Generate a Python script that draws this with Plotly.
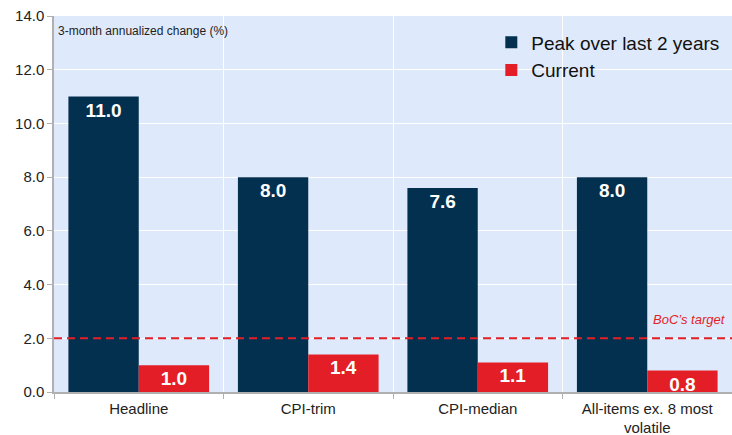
import plotly.graph_objects as go

categories = ["Headline", "CPI-trim", "CPI-median", "All-items ex. 8 most<br>volatile"]
peak = [11.0, 8.0, 7.6, 8.0]
current = [1.0, 1.4, 1.1, 0.8]
target = 2.0
y_ticks = [0, 2, 4, 6, 8, 10, 12, 14]

navy = "#04304F"
red = "#E31E26"
font = "Liberation Sans, Arial, sans-serif"

fig = go.Figure()
fig.add_trace(go.Bar(
    x=categories, y=peak, name="Peak over last 2 years",
    marker=dict(color=navy, line=dict(width=0)),
    text=[f"{v:.1f}" for v in peak], textposition="inside", insidetextanchor="end",
    textfont=dict(color="white", size=19, family=font, weight="bold"),
    constraintext="none",
))
fig.add_trace(go.Bar(
    x=categories, y=current, name="Current",
    marker=dict(color=red, line=dict(width=0)),
    text=[f"{v:.1f}" for v in current], textposition="inside", insidetextanchor="end",
    textfont=dict(color="white", size=19, family=font, weight="bold"),
    constraintext="none",
))

fig.add_shape(type="line", xref="paper", yref="y", x0=0, x1=1, y0=target, y1=target,
              line=dict(color=red, width=2, dash="8px,5px"), layer="above")
fig.add_annotation(xref="paper", yref="y", x=1.0, xshift=-4, y=target, yshift=19, text="<i>BoC’s target</i>",
                   showarrow=False, xanchor="right", font=dict(color=red, size=13, family=font))
fig.add_annotation(xref="paper", yref="paper", x=0.003, y=0.985, text="3-month annualized change (%)",
                   showarrow=False, xanchor="left", yanchor="top", font=dict(color="#222", size=12, family=font))

fig.update_layout(
    width=732, height=435,
    margin=dict(l=54, r=0, t=16, b=43),
    paper_bgcolor="white", plot_bgcolor="#DEEAFB",
    barmode="group", bargap=0.17, bargroupgap=0,
    font=dict(family=font, color="#222"),
    showlegend=True,
    legend=dict(x=0.645, y=0.98, xanchor="left", yanchor="top", bgcolor="rgba(0,0,0,0)",
                font=dict(size=19, family=font, color="#111"), itemwidth=30, tracegroupgap=0),
)
fig.update_xaxes(
    tickson="boundaries", showgrid=True, gridcolor="white", gridwidth=1,
    showline=True, linecolor="#B0B0B0", linewidth=1.5,
    ticks="outside", ticklen=5, tickcolor="#B0B0B0",
    tickfont=dict(size=15, family=font, color="#222"), ticklabelstandoff=2,
)
fig.update_yaxes(
    range=[0, 14], tickvals=y_ticks, ticktext=[f"{v:.1f}" for v in y_ticks],
    showgrid=True, gridcolor="white", gridwidth=1,
    showline=True, linecolor="#B0B0B0", linewidth=1.5,
    ticks="outside", ticklen=5, tickcolor="#B0B0B0",
    tickfont=dict(size=15, family=font, color="#222"), zeroline=False,
)

fig.write_html("out.html", config={"displayModeBar": False},
               post_script="document.body.style.margin='0px';document.body.style.overflow='hidden';")
